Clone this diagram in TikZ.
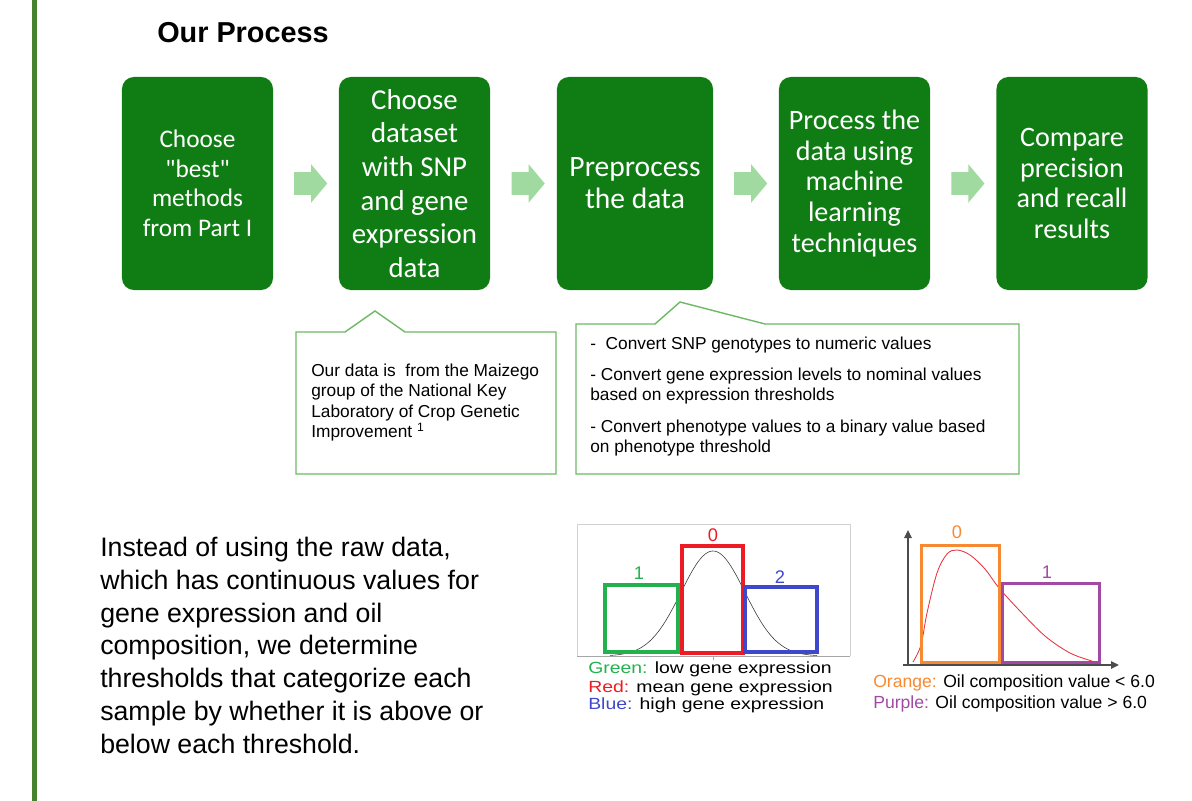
\documentclass[tikz,border=0pt]{standalone}
\usepackage{fontspec}
\setmainfont{Liberation Sans}
\newfontfamily\boxfont{Carlito}
\newfontfamily\widefont[FakeStretch=1.2]{Liberation Sans}
\usetikzlibrary{arrows.meta, shapes.arrows, calc}

\definecolor{boxgreen}{RGB}{16,125,20}
\definecolor{arrowgreen}{RGB}{160,218,160}
\definecolor{callgreen}{RGB}{110,185,100}
\definecolor{bargreen}{RGB}{70,130,45}
\definecolor{cgreen}{RGB}{34,177,76}
\definecolor{cred}{RGB}{237,28,36}
\definecolor{cblue}{RGB}{63,72,204}
\definecolor{corange}{RGB}{247,137,50}
\definecolor{cpurple}{RGB}{163,73,164}
\definecolor{curvered}{RGB}{230,50,60}

\begin{document}
\begin{tikzpicture}[
    x=0.025cm, y=-0.025cm,
    stepbox/.style={rectangle, rounded corners=0.3cm, fill=boxgreen,
                    text=white, align=center, inner sep=0pt,
                    minimum width=3.775cm, minimum height=5.325cm},
    flowarrow/.style={single arrow, fill=arrowgreen, draw=none,
                      inner xsep=0pt, inner ysep=0.275cm,
                      minimum height=0.825cm, single arrow head extend=0.2cm,
                      single arrow tip angle=100},
    callout/.style={draw=callgreen, fill=white, line width=1pt},
    calltext/.style={anchor=north west, align=left, inner sep=0pt},
    legend/.style={anchor=base west, inner sep=0pt},
    bin/.style={line width=0.1cm}
]
\useasboundingbox (0,0) rectangle (1192,801);

% left margin bar
\fill[bargreen] (32,0) rectangle (37,801);

% --- title ---
\node[anchor=base west, inner sep=0pt, font=\bfseries\fontsize{20.5}{24}\selectfont] (title) at (157,43) {Our Process};

% --- process steps ---
\node[stepbox, font=\boxfont\fontsize{18}{21}\selectfont] (s1) at (197.5,183.5)
    {Choose\\"best"\\methods\\from Part I};
\node[stepbox, font=\boxfont\fontsize{20.5}{23.9}\selectfont] (s2) at (414.5,183.5)
    {Choose\\dataset\\with SNP\\and gene\\expression\\data};
\node[stepbox, minimum width=3.9cm, font=\boxfont\fontsize{21}{22.8}\selectfont] (s3) at (635,183.5)
    {Preprocess\\the data};
\node[stepbox, font=\boxfont\fontsize{20}{22}\selectfont] (s4) at (854.5,183.5)
    {Process the\\data using\\machine\\learning\\techniques};
\node[stepbox, font=\boxfont\fontsize{20}{22}\selectfont] (s5) at (1072,183.5)
    {Compare\\precision\\and recall\\results};

\node[flowarrow] (a1) at ($(s1.east)!0.5!(s2.west)$) {};
\node[flowarrow] (a2) at ($(s2.east)!0.5!(s3.west)$) {};
\node[flowarrow] (a3) at ($(s3.east)!0.5!(s4.west)$) {};
\node[flowarrow] (a4) at ($(s4.east)!0.5!(s5.west)$) {};

% --- callouts ---
\draw[callout] (296,332) -- (345,332) -- (375,311) -- (405,332) -- (556,332)
    -- (556,474) -- (296,474) -- cycle;
\draw[callout] (576,324) -- (655,324) -- (680,302) -- (765,324) -- (1019,324)
    -- (1019,474) -- (576,474) -- cycle;

\node[calltext, font=\fontsize{12.3}{14.6}\selectfont] (c1) at (311,363.5)
    {Our data is\ \ from the Maizego\\group of the National Key\\Laboratory of Crop Genetic\\Improvement \textsuperscript{1}};
\node[calltext, font=\fontsize{12.3}{14.6}\selectfont] (c2) at (590,336.5)
    {-\ \ Convert SNP genotypes to numeric values\\[7.5pt]- Convert gene expression levels to nominal values\\based on expression thresholds\\[7.5pt]- Convert phenotype values to a binary value based\\on phenotype threshold};

% --- explanation ---
\node[calltext, font=\fontsize{19}{23.3}\selectfont] (para) at (100,537)
    {Instead of using the raw data,\\which has continuous values for\\gene expression and oil\\composition, we determine\\thresholds that categorize each\\sample by whether it is above or\\below each threshold.};

% --- gene expression chart ---
\draw[gray!35] (577,656) -- (577,524) -- (850,524) -- (850,656);
\draw[gray!70] (577,656) -- (850,656);
\draw[gray!70] (713,656) -- (713,660);
\draw[black!80, line width=0.4pt] plot[domain=610:817, samples=90]
    (\x, {656-105*exp(-((\x-713)/32)^2/2)});
\draw[bin, cgreen] (605,585) rectangle (678,652);
\draw[bin, cred] (682,546) rectangle (743,653);
\draw[bin, cblue] (745,587) rectangle (817,652);
\node[text=cgreen, font=\fontsize{13}{15}\selectfont] (g1) at (639,573) {1};
\node[text=cred, font=\fontsize{13}{15}\selectfont] (g0) at (713,535) {0};
\node[text=cblue, font=\fontsize{13}{15}\selectfont] (g2) at (780,577) {2};

\node[legend, font=\widefont\fontsize{11.5}{13}\selectfont] (lg1) at (588,673.5)
    {\textcolor{cgreen}{Green:} low gene expression};
\node[legend, font=\widefont\fontsize{11.5}{13}\selectfont] (lg2) at (588,692.5)
    {\textcolor{cred}{Red:} mean gene expression};
\node[legend, font=\widefont\fontsize{11.5}{13}\selectfont] (lg3) at (588,709.5)
    {\textcolor{cblue}{Blue:} high gene expression};

% --- oil composition chart ---
\draw[black!70, line width=1.3pt, -{Triangle[length=0.2cm, width=0.18cm]}] (908,665) -- (908,530);
\draw[black!70, line width=1.3pt, -{Triangle[length=0.2cm, width=0.18cm]}] (903,665) -- (1119,665);
\draw[curvered, line width=0.6pt] plot[smooth, tension=0.55] coordinates
    {(913,662) (921,645) (927,613) (937,573) (947,554) (957,550) (970,555)
     (985,569) (999,588) (1020,611) (1045,636) (1070,653) (1092,661)};
\draw[line width=0.075cm, corange] (921,545) rectangle (999,662);
\draw[line width=0.075cm, cpurple] (1002,583) rectangle (1099,662);
\node[text=corange, font=\fontsize{13}{15}\selectfont] (o0) at (957,532) {0};
\node[text=cpurple, font=\fontsize{13}{15}\selectfont] (o1) at (1047,572) {1};

\node[legend, font=\fontsize{12.5}{15}\selectfont] (lo1) at (873,687)
    {\textcolor{corange}{Orange:} Oil composition value < 6.0};
\node[legend, font=\fontsize{12.5}{15}\selectfont] (lo2) at (873,708)
    {\textcolor{cpurple}{Purple:} Oil composition value > 6.0};

\end{tikzpicture}
\end{document}
